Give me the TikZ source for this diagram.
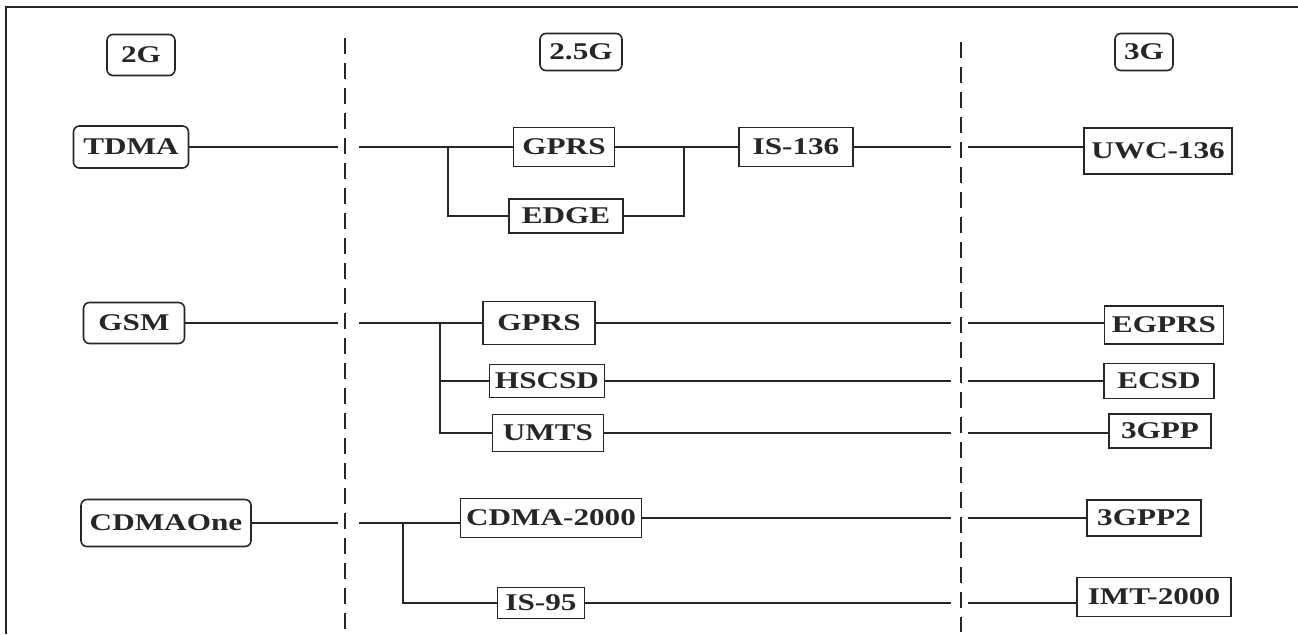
\documentclass[tikz,border=0pt]{standalone}
\usepackage{fontspec}
\setmainfont{Liberation Serif}[FakeStretch=1.3]
\usepackage{tikz}
\tikzset{
  gen/.style={draw,rounded corners=3pt,line width=0.8pt,inner sep=0pt,font=\fontsize{12}{14}\selectfont\bfseries},
  tech/.style={draw,rectangle,line width=0.8pt,inner sep=0pt,font=\fontsize{12}{14}\selectfont\bfseries},
  link/.style={line width=0.7pt},
  divider/.style={line width=0.8pt,dash pattern=on 8pt off 4.5pt}
}

\begin{document}
\begin{tikzpicture}[x=0.5pt,y=-0.5pt,black!85]
      \useasboundingbox (0,0) rectangle (1298,634);
      \draw[line width=1pt] (6,634) -- (6,7) -- (1298,7);

      % generations
      \node[gen,minimum width=34pt,minimum height=20.5pt] (g2) at (141,55) {2G};
      \node[gen,minimum width=41pt,minimum height=18.5pt] (g25) at (581,52) {2.5G};
      \node[gen,minimum width=29pt,minimum height=18.5pt] (g3) at (1144,52) {3G};

      % dividers
      \coordinate (d1top) at (345,38);
      \coordinate (d1bot) at (345,630);
      \coordinate (d2top) at (961,42);
      \coordinate (d2bot) at (961,632);
      \draw[divider] (d1top) -- (d1bot);
      \draw[divider] (d2top) -- (d2bot);

      % gaps round the dividers and branch points
      \coordinate (l1) at (338,0);
      \coordinate (r1) at (359,0);
      \coordinate (l2) at (951,0);
      \coordinate (r2) at (968,0);
      \coordinate (b1) at (448,0);
      \coordinate (m1) at (684,0);
      \coordinate (b2) at (440,0);
      \coordinate (b3) at (403,0);

      % 2G systems
      \node[gen,minimum width=57.5pt,minimum height=21pt] (tdma) at (131,147) {TDMA};
      \node[gen,minimum width=50.5pt,minimum height=20.5pt] (gsm) at (134,323) {GSM};
      \node[gen,minimum width=85pt,minimum height=23.5pt] (cdmaone) at (166,523) {CDMAOne};

      % 2.5G and 3G systems
      \foreach \n/\x/\y/\w/\h/\t in {gprsA/564/147/50.5/19.5/GPRS, edge/566/216/57/17/EDGE,
          is136/796/147/57/19.5/IS-136, uwc/1158/151/74/23/UWC-136,
          gprsB/539/323/56/21.5/GPRS, hscsd/547/381/57.5/16.5/HSCSD, umts/548/433/55.5/18.5/UMTS,
          cdma2000/551/518/90.5/19.5/CDMA-2000, is95/541/603/43.5/15.5/IS-95,
          egprs/1164/325/59.5/19/EGPRS, ecsd/1159/381/55/17.5/ECSD, gppA/1160/431/51/17/3GPP,
          gppB/1144/518/57/18/3GPP2, imt/1154/597/77/19.5/IMT-2000} {
        \node[tech,minimum width=\w pt,minimum height=\h pt] (\n) at (\x,\y) {\t};
      }

      % 2G to 2.5G
      \foreach \a in {tdma, gsm, cdmaone} {
        \draw[link] (\a.east) -- (\a -| l1);
      }
      \draw[link] (tdma -| r1) -- (gprsA.west);
      \draw[link] (tdma -| b1) |- (edge.west);
      \draw[link] (gprsA.east) -- (is136.west);
      \draw[link] (edge.east) -| (gprsA -| m1);
      \draw[link] (gsm -| r1) -- (gprsB.west |- gsm);
      \draw[link] (gsm -| b2) |- (hscsd.west);
      \draw[link] (gsm -| b2) |- (umts.west);
      \draw[link] (cdmaone -| r1) -- (cdma2000.west |- cdmaone);
      \draw[link] (cdmaone -| b3) |- (is95.west);

      % 2.5G to 3G
      \foreach \a/\b in {is136/uwc, gprsB/egprs, hscsd/ecsd, umts/gppA, cdma2000/gppB, is95/imt} {
        \draw[link] (\a.east) -- (\a -| l2);
        \draw[link] (\a -| r2) -- (\b.west |- \a);
      }
\end{tikzpicture}
\end{document}
